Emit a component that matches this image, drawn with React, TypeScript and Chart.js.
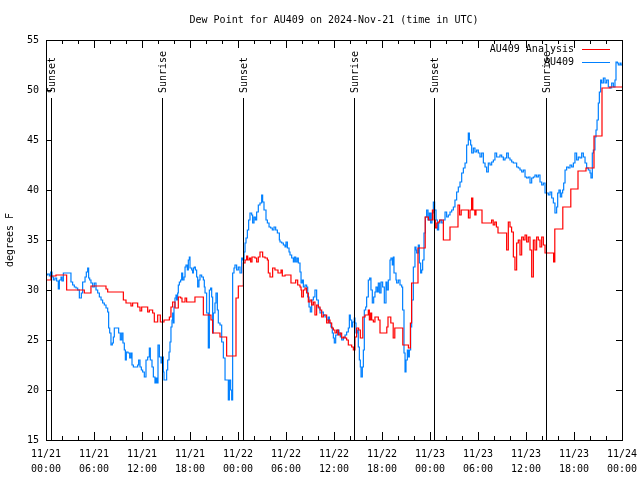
import React, { useEffect, useRef } from "react";
import { Chart, registerables } from "chart.js";

Chart.register(...registerables);

const TITLE = "Dew Point for AU409 on 2024-Nov-21 (time in UTC)";
const Y_TITLE = "degrees F";
const SERIES_ANALYSIS = "AU409 Analysis";
const SERIES_OBS = "AU409";

const tickDates = ["11/21", "11/21", "11/21", "11/21", "11/22", "11/22", "11/22", "11/22", "11/23", "11/23", "11/23", "11/23", "11/24"];
const tickTimes = ["00:00", "06:00", "12:00", "18:00", "00:00", "06:00", "12:00", "18:00", "00:00", "06:00", "12:00", "18:00", "00:00"];

// hours since 2024-11-21 00:00 UTC
const sunHours = [0.66, 14.54, 24.66, 38.54, 48.56, 62.54];
const sunLabels = ["Sunset", "Sunrise", "Sunset", "Sunrise", "Sunset", "Sunrise"];

const analysisHours = [
  0, 0.62, 1.25, 2.58, 4.79, 5.62, 7.5, 7.71, 9.67, 10.0, 10.62, 10.83, 11.46, 11.75, 11.96, 12.71, 12.92, 13.33, 13.54, 13.96,
  14.29, 14.75, 15.42, 15.62, 15.83, 16.12, 16.54, 16.83, 17.0, 17.38, 17.58, 18.62, 19.67, 20.62, 20.83, 21.75, 22.58, 23.75, 24.04, 24.67,
  24.88, 25.08, 25.21, 25.42, 25.58, 25.75, 26.12, 26.33, 26.54, 26.75, 27.08, 27.38, 27.67, 27.79, 28.0, 28.33, 28.62, 29.0, 29.38, 29.54,
  29.88, 30.62, 31.21, 31.46, 31.75, 31.88, 31.96, 32.17, 32.38, 32.58, 32.79, 33.0, 33.21, 33.42, 33.62, 33.83, 34.04, 34.25, 34.46, 34.67,
  35.08, 35.29, 35.5, 35.71, 35.92, 36.12, 36.33, 36.54, 36.75, 36.96, 37.17, 37.38, 37.58, 37.79, 38.21, 38.42, 38.62, 38.83, 39.08, 39.29,
  39.6, 39.88, 40.29, 40.42, 40.58, 40.71, 40.92, 41.12, 41.54, 41.75, 42.6, 42.75, 43.1, 43.4, 43.6, 44.6, 45.3, 45.55, 45.7, 46.5,
  47.4, 47.8, 48.3, 48.5, 48.67, 48.85, 49.0, 49.2, 49.67, 50.5, 51.5, 51.7, 51.9, 52.8, 53.0, 53.2, 53.35, 53.6, 53.75, 54.5,
  55.7, 55.9, 56.1, 56.3, 56.5, 57.58, 57.79, 58.0, 58.2, 58.42, 58.62, 58.83, 59.04, 59.25, 59.46, 59.67, 59.88, 60.08, 60.29, 60.5,
  60.71, 60.92, 61.12, 61.33, 61.54, 61.75, 61.96, 62.17, 62.38, 63.45, 63.6, 64.6, 65.6, 66.5, 67.5, 68.5, 69.5, 70.5, 72
];
const analysisValues = [
  31.0, 31.4, 31.5, 30.0, 29.7, 30.4, 30.1, 29.8, 29.0, 28.7, 28.4, 28.7, 28.3, 27.9, 28.3, 27.8, 28.0, 27.7, 26.8, 27.5,
  26.8, 27.0, 27.3, 28.3, 28.8, 28.2, 29.3, 29.2, 28.8, 29.2, 28.8, 29.3, 27.5, 27.0, 25.7, 25.3, 23.4, 29.2, 30.4, 32.7,
  33.0, 33.4, 33.0, 33.2, 32.8, 33.3, 33.2, 32.8, 33.3, 33.8, 33.3, 33.2, 33.0, 31.7, 31.3, 32.2, 32.0, 31.7, 32.0, 31.4,
  31.5, 30.7, 31.0, 30.5, 30.3, 30.0, 29.3, 30.0, 30.2, 29.7, 28.8, 29.0, 28.5, 28.8, 27.5, 28.5, 28.3, 28.0, 27.3, 27.5,
  26.7, 27.0, 26.7, 26.2, 26.0, 25.7, 26.0, 25.5, 25.7, 25.2, 25.3, 25.2, 25.0, 24.5, 24.3, 24.0, 25.3, 26.2, 26.0, 25.2,
  27.3, 27.5, 28.0, 27.0, 27.7, 27.0, 26.8, 27.3, 27.0, 25.7, 26.3, 27.3, 26.7, 25.2, 26.2, 24.5, 24.2, 26.7, 30.7, 34.2,
  37.3, 37.0, 38.0, 37.0, 36.2, 36.7, 36.8, 37.0, 35.0, 36.3, 38.5, 37.5, 38.0, 37.2, 38.0, 39.2, 38.0, 37.5, 38.0, 36.7,
  37.0, 36.5, 36.8, 36.3, 35.7, 34.0, 36.8, 36.3, 35.8, 33.3, 32.0, 34.7, 35.0, 33.5, 35.3, 35.0, 35.5, 34.8, 35.3, 34.0,
  31.3, 35.0, 34.0, 35.3, 35.0, 34.3, 35.3, 34.5, 33.7, 32.8, 36.1, 38.3, 40.1, 41.9, 42.2, 45.4, 50.2, 50.3, 50.3
];

const obsHours = [
  0, 0.2, 0.42, 0.58, 0.75, 0.92, 1.12, 1.33, 1.54, 1.67, 1.88, 2.0, 2.17, 3.12, 3.33, 3.54, 3.75, 3.96, 4.17, 4.42,
  4.58, 4.88, 5.04, 5.21, 5.33, 5.46, 5.62, 5.83, 6.04, 6.25, 6.46, 6.67, 6.88, 7.08, 7.29, 7.5, 7.71, 7.83, 7.96, 8.12,
  8.29, 8.42, 8.54, 9.08, 9.29, 9.46, 9.62, 9.79, 9.92, 10.04, 10.25, 10.46, 10.62, 10.75, 10.92, 11.25, 11.46, 11.58, 11.75, 11.92,
  12.08, 12.29, 12.5, 12.71, 12.92, 13.04, 13.25, 13.42, 13.62, 13.75, 13.88, 14.0, 14.17, 14.38, 14.54, 14.67, 14.75, 15.08, 15.21, 15.38,
  15.5, 15.62, 15.75, 15.83, 15.92, 16.0, 16.12, 16.25, 16.33, 16.46, 16.54, 16.67, 16.83, 16.96, 17.08, 17.25, 17.38, 17.5, 17.67, 17.79,
  17.92, 18.0, 18.21, 18.33, 18.42, 18.54, 18.67, 18.83, 18.96, 19.12, 19.25, 19.46, 19.67, 19.79, 19.88, 20.08, 20.29, 20.42, 20.58, 20.71,
  20.83, 20.92, 21.12, 21.25, 21.42, 21.54, 21.75, 21.96, 22.17, 22.38, 22.79, 22.92, 23.08, 23.21, 23.33, 23.5, 23.62, 23.83, 24.04, 24.25,
  24.46, 24.58, 24.75, 24.88, 25.0, 25.17, 25.33, 25.5, 25.71, 25.83, 26.0, 26.17, 26.33, 26.54, 26.75, 26.96, 27.08, 27.25, 27.5, 27.67,
  27.88, 28.08, 28.29, 28.5, 28.71, 28.92, 29.17, 29.25, 29.46, 29.67, 29.88, 30.0, 30.17, 30.38, 30.5, 30.71, 30.92, 31.04, 31.21, 31.38,
  31.54, 31.75, 31.88, 32.04, 32.17, 32.38, 32.58, 32.71, 32.88, 33.04, 33.21, 33.42, 33.62, 33.83, 34.04, 34.25, 34.46, 34.67, 34.88, 35.08,
  35.29, 35.42, 35.62, 35.79, 35.92, 36.04, 36.21, 36.46, 36.62, 36.79, 36.96, 37.17, 37.38, 37.58, 37.79, 37.92, 38.04, 38.21, 38.33, 38.54,
  38.62, 38.75, 38.88, 39.04, 39.17, 39.29, 39.38, 39.54, 39.67, 39.79, 39.96, 40.08, 40.29, 40.46, 40.62, 40.79, 40.96, 41.12, 41.25, 41.42,
  41.54, 41.71, 41.88, 42.08, 42.29, 42.5, 42.62, 42.79, 43.0, 43.12, 43.29, 43.42, 43.5, 43.75, 43.83, 44.04, 44.25, 44.46, 44.58, 44.75,
  44.88, 45.0, 45.17, 45.29, 45.42, 45.58, 45.71, 45.92, 46.12, 46.25, 46.33, 46.54, 46.67, 46.83, 46.96, 47.08, 47.25, 47.42, 47.58, 47.75,
  47.92, 48.08, 48.25, 48.42, 48.58, 48.75, 48.92, 49.08, 49.25, 49.46, 49.67, 49.88, 50.08, 50.29, 50.5, 50.71, 50.92, 51.12, 51.33, 51.54,
  51.75, 51.96, 52.17, 52.38, 52.58, 52.79, 52.92, 53.08, 53.21, 53.42, 53.62, 53.83, 54.04, 54.25, 54.46, 54.67, 54.88, 55.08, 55.29, 55.5,
  55.71, 55.92, 56.12, 56.33, 56.54, 56.75, 56.96, 57.17, 57.38, 57.58, 57.79, 58.0, 58.21, 58.42, 58.62, 58.83, 59.04, 59.25, 59.46, 59.67,
  59.88, 60.08, 60.29, 60.5, 60.71, 60.92, 61.12, 61.33, 61.54, 61.75, 61.96, 62.17, 62.38, 62.58, 62.79, 63.0, 63.21, 63.42, 63.62, 63.83,
  63.96, 64.12, 64.29, 64.46, 64.58, 64.71, 64.88, 65.08, 65.29, 65.5, 65.71, 65.92, 66.12, 66.33, 66.54, 66.75, 66.96, 67.17, 67.38, 67.58,
  67.79, 68.0, 68.12, 68.29, 68.42, 68.62, 68.75, 68.88, 69.04, 69.17, 69.33, 69.46, 69.67, 69.88, 70.08, 70.29, 70.5, 70.71, 70.92, 71.12,
  71.25, 71.42, 71.54, 71.75, 71.88, 72
];
const obsValues = [
  31.5, 31.6, 31.4, 31.8, 31.3, 31.0, 31.2, 30.9, 30.1, 31.0, 31.3, 30.9, 31.7, 30.8, 30.5, 30.3, 30.2, 30.0, 29.2, 29.7,
  30.8, 31.3, 31.8, 32.2, 31.2, 31.0, 30.7, 30.3, 30.7, 30.0, 29.7, 29.3, 29.0, 28.7, 28.5, 28.2, 27.8, 26.2, 25.7, 24.5,
  24.7, 25.3, 26.2, 25.7, 25.0, 25.7, 24.7, 24.0, 23.0, 23.8, 23.7, 23.2, 23.7, 22.5, 22.3, 22.3, 22.5, 23.0, 22.3, 22.0,
  21.8, 21.3, 23.0, 23.3, 24.2, 23.0, 22.3, 21.3, 20.7, 21.2, 20.7, 24.5, 23.3, 22.7, 23.3, 21.8, 21.0, 22.0, 23.0, 23.8,
  24.8, 26.3, 27.0, 27.7, 26.7, 28.3, 29.2, 29.5, 29.0, 29.7, 30.5, 30.8, 31.0, 31.7, 31.0, 31.3, 32.3, 32.5, 32.0, 33.0,
  33.3, 32.2, 32.0, 31.7, 32.2, 32.3, 32.0, 31.3, 30.3, 31.0, 31.5, 31.3, 31.0, 30.3, 29.7, 27.7, 24.2, 30.0, 30.2, 29.3,
  25.7, 27.7, 28.7, 29.7, 28.0, 26.7, 26.5, 24.8, 23.2, 21.0, 19.0, 21.0, 20.0, 19.0, 31.7, 32.2, 32.5, 32.0, 32.3, 31.7,
  33.2, 33.0, 33.8, 34.7, 35.2, 36.0, 37.0, 37.7, 37.5, 36.7, 37.3, 37.0, 37.8, 38.5, 38.7, 39.5, 38.8, 38.0, 37.0, 36.7,
  36.3, 36.2, 36.0, 36.3, 36.0, 35.7, 35.0, 34.8, 34.7, 34.5, 34.3, 34.8, 34.2, 33.8, 33.5, 33.2, 32.8, 33.3, 32.8, 33.2,
  32.7, 31.8, 30.7, 31.0, 30.3, 30.5, 30.3, 29.3, 28.3, 27.8, 29.0, 29.3, 30.0, 29.0, 28.2, 27.7, 27.8, 27.5, 27.3, 27.0,
  27.3, 26.7, 26.3, 25.7, 25.2, 24.7, 25.5, 26.0, 25.7, 25.3, 25.0, 25.2, 25.5, 25.8, 26.2, 27.5, 27.0, 26.3, 26.8, 27.2,
  26.7, 25.7, 26.0, 24.3, 23.0, 22.3, 21.3, 22.3, 24.0, 28.0, 28.3, 29.3, 31.0, 31.2, 30.0, 28.7, 29.3, 29.8, 30.3, 29.8,
  30.7, 29.7, 30.8, 30.3, 28.7, 30.8, 30.0, 31.0, 33.0, 33.2, 32.5, 33.3, 31.7, 31.0, 30.7, 31.0, 30.5, 30.3, 28.0, 23.7,
  21.8, 23.0, 24.0, 23.3, 24.0, 26.3, 29.0, 32.3, 34.3, 34.0, 33.7, 34.5, 32.7, 31.7, 32.0, 33.0, 35.7, 37.3, 38.0, 37.0,
  37.7, 36.7, 37.7, 38.8, 38.0, 37.0, 36.0, 36.7, 37.0, 36.7, 37.0, 37.8, 37.3, 37.5, 37.8, 38.0, 38.3, 39.0, 39.8, 40.3,
  40.8, 41.7, 42.2, 42.7, 44.5, 45.7, 45.0, 44.5, 43.7, 44.2, 43.8, 44.0, 43.7, 43.3, 43.7, 42.7, 42.3, 41.8, 42.7, 42.5,
  42.8, 43.0, 43.7, 43.3, 43.3, 43.5, 43.3, 43.0, 43.2, 43.7, 43.2, 43.0, 42.8, 42.7, 42.7, 42.3, 42.2, 42.0, 41.8, 42.0,
  41.3, 41.2, 41.3, 40.7, 41.2, 41.3, 41.5, 41.3, 41.5, 40.8, 40.5, 40.7, 39.7, 39.7, 39.5, 39.8, 39.2, 38.7, 37.7, 38.3,
  39.7, 40.0, 39.3, 39.7, 40.0, 40.7, 42.0, 42.3, 42.2, 42.5, 42.3, 42.7, 43.7, 43.0, 43.3, 43.2, 43.7, 43.3, 42.7, 42.2,
  42.0, 41.7, 41.2, 43.7, 44.0, 45.3, 46.0, 47.0, 48.7, 49.8, 51.0, 50.7, 51.2, 50.7, 51.0, 50.3, 50.2, 50.7, 50.3, 51.0,
  52.8, 52.7, 52.5, 52.7, 52.5, 52.5
];

const MONO = "'DejaVu Sans Mono', 'Liberation Mono', monospace";
const RED = "#ff0000";
const BLUE = "rgb(0,128,255)";

const overlayPlugin = {
  id: "overlay",
  afterDatasetsDraw(chart: any) {
    const { ctx, chartArea: a, scales } = chart;
    const xs = scales.x;
    const ys = scales.y;
    ctx.save();
    ctx.strokeStyle = "#000";
    ctx.fillStyle = "#000";
    ctx.lineWidth = 1;

    // frame
    ctx.strokeRect(a.left + 0.5, a.top + 0.5, a.right - a.left, a.bottom - a.top);

    // x ticks (inward, top and bottom)
    ctx.beginPath();
    for (let h = 0; h <= 72; h += 2) {
      const px = Math.round(xs.getPixelForValue(h)) + 0.5;
      const len = h % 6 === 0 ? 8 : 4;
      ctx.moveTo(px, a.bottom);
      ctx.lineTo(px, a.bottom - len);
      ctx.moveTo(px, a.top);
      ctx.lineTo(px, a.top + len);
    }
    // y ticks (inward, left and right)
    for (let v = 15; v <= 55; v += 5) {
      const py = Math.round(ys.getPixelForValue(v)) + 0.5;
      ctx.moveTo(a.left, py);
      ctx.lineTo(a.left + 6, py);
      ctx.moveTo(a.right, py);
      ctx.lineTo(a.right - 6, py);
    }
    ctx.stroke();

    // sunrise / sunset markers
    ctx.font = `10px ${MONO}`;
    sunHours.forEach((h, i) => {
      const px = Math.round(xs.getPixelForValue(h)) + 0.5;
      ctx.beginPath();
      ctx.moveTo(px, a.top + 58);
      ctx.lineTo(px, a.bottom);
      ctx.stroke();
      ctx.save();
      ctx.translate(px + 1, a.top + 53);
      ctx.rotate(-Math.PI / 2);
      ctx.textAlign = "left";
      ctx.textBaseline = "middle";
      ctx.fillText(sunLabels[i], 0, 0);
      ctx.restore();
    });

    // legend
    const entries = [
      { label: SERIES_ANALYSIS, color: RED },
      { label: SERIES_OBS, color: BLUE },
    ];
    entries.forEach((e, i) => {
      const y = a.top + 9 + i * 13;
      ctx.fillStyle = "#000";
      ctx.textAlign = "right";
      ctx.textBaseline = "middle";
      ctx.fillText(e.label, a.right - 48, y);
      ctx.strokeStyle = e.color;
      ctx.beginPath();
      ctx.moveTo(a.right - 40, Math.round(y) + 0.5);
      ctx.lineTo(a.right - 12, Math.round(y) + 0.5);
      ctx.stroke();
    });

    // title
    ctx.fillStyle = "#000";
    ctx.textAlign = "center";
    ctx.textBaseline = "middle";
    ctx.fillText(TITLE, (a.left + a.right) / 2, 20);

    // y axis title
    ctx.save();
    ctx.translate(10, (a.top + a.bottom) / 2);
    ctx.rotate(-Math.PI / 2);
    ctx.textAlign = "center";
    ctx.textBaseline = "middle";
    ctx.fillText(Y_TITLE, 0, 0);
    ctx.restore();

    ctx.restore();
  },
};

export default function App() {
  const ref = useRef<HTMLCanvasElement | null>(null);

  useEffect(() => {
    document.body.style.margin = "0";
    const canvas = ref.current;
    if (!canvas) return;
    const chart = new Chart(canvas, {
      type: "line",
      data: {
        datasets: [
          {
            label: SERIES_ANALYSIS,
            data: analysisHours.map((h, i) => ({ x: h, y: analysisValues[i] })),
            borderColor: RED,
            backgroundColor: RED,
            borderWidth: 1.2,
            stepped: true,
            pointRadius: 0,
            fill: false,
          },
          {
            label: SERIES_OBS,
            data: obsHours.map((h, i) => ({ x: h, y: obsValues[i] })),
            borderColor: BLUE,
            backgroundColor: BLUE,
            borderWidth: 1.2,
            stepped: true,
            pointRadius: 0,
            fill: false,
          },
        ],
      },
      options: {
        responsive: false,
        animation: false,
        devicePixelRatio: 1,
        layout: { padding: { top: 40, right: 18, left: 0, bottom: 0 } },
        plugins: {
          legend: { display: false },
          title: { display: false },
          tooltip: { enabled: false },
        },
        scales: {
          x: {
            type: "linear",
            min: 0,
            max: 72,
            afterFit: (s: any) => {
              s.height = 40;
              s.paddingLeft = 0;
              s.paddingRight = 0;
            },
            grid: { display: false, drawTicks: false },
            border: { display: false },
            ticks: {
              stepSize: 6,
              autoSkip: false,
              maxRotation: 0,
              padding: 7,
              color: "#000",
              font: { family: MONO, size: 10, lineHeight: 1.5 },
              callback: (v: any) => {
                const i = Math.round(Number(v) / 6);
                return [tickDates[i], tickTimes[i]];
              },
            },
          },
          y: {
            type: "linear",
            min: 15,
            max: 55,
            afterFit: (s: any) => {
              s.width = 46;
              s.paddingTop = 0;
              s.paddingBottom = 0;
            },
            grid: { display: false, drawTicks: false },
            border: { display: false },
            ticks: {
              stepSize: 5,
              padding: 7,
              color: "#000",
              font: { family: MONO, size: 10 },
            },
          },
        },
      },
      plugins: [overlayPlugin],
    });
    return () => chart.destroy();
  }, []);

  return <canvas ref={ref} width={640} height={480} style={{ display: "block" }} />;
}
